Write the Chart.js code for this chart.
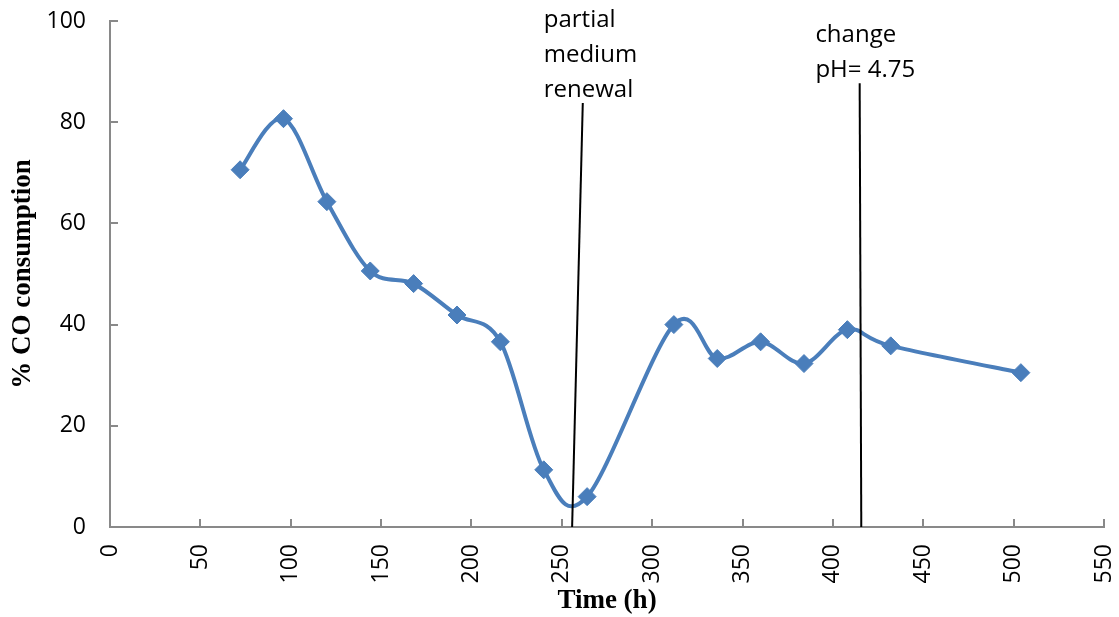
<!DOCTYPE html>
<html>
<head>
<meta charset="utf-8">
<script src="https://cdn.jsdelivr.net/npm/chart.js@4.4.1/dist/chart.umd.min.js"></script>
<style>
  html, body { margin: 0; padding: 0; background: #fff; }
  #wrap { width: 1119px; height: 617px; }
</style>
</head>
<body>
<div id="wrap"><canvas id="c" width="1119" height="617"></canvas></div>
<script>
// ---- data ----
const timeH = [72, 96, 120, 144, 168, 192, 216, 240, 264, 312, 336, 360, 384, 408, 432, 504];
const coPct = [70.6, 80.7, 64.3, 50.6, 48.1, 41.9, 36.6, 11.3, 6.0, 40.0, 33.3, 36.6, 32.3, 39.0, 35.8, 30.5];
const renewalLineX = [255.7, 261.6];
const renewalLineY = [0, 83.8];
const phLineX = [415.7, 414.8];
const phLineY = [0, 87.7];
const renewalText = ["partial", "medium", "renewal"];
const phText = ["change", "pH= 4.75"];
const xTicks = [0, 50, 100, 150, 200, 250, 300, 350, 400, 450, 500, 550];
const yTicks = [0, 20, 40, 60, 80, 100];

const toXY = (xs, ys) => xs.map((x, i) => ({ x: x, y: ys[i] }));

const AXIS_GRAY = '#898989';
const BLUE = '#4A7EBB';

// Excel-style smoothing: Bezier control points at +/- (next - prev) / 6
const excelSmooth = {
  id: 'excelSmooth',
  beforeDatasetDraw(chart, args) {
    if (args.index !== 2) return;
    const meta = args.meta;
    const pts = meta.data;
    const n = pts.length;
    for (let i = 0; i < n; i++) {
      const p = pts[i];
      const prev = pts[Math.max(i - 1, 0)];
      const next = pts[Math.min(i + 1, n - 1)];
      const dx = (next.x - prev.x) / 6, dy = (next.y - prev.y) / 6;
      p.cp1x = p.x - dx; p.cp1y = p.y - dy;
      p.cp2x = p.x + dx; p.cp2y = p.y + dy;
    }
    meta.dataset._pointsUpdated = true;
    meta.dataset._path = undefined;
  }
};

const innerTicks = {
  id: 'innerTicks',
  afterDraw(chart) {
    const ctx = chart.ctx;
    const xs = chart.scales.x, ys = chart.scales.y;
    ctx.save();
    ctx.strokeStyle = AXIS_GRAY;
    ctx.lineWidth = 2;
    ctx.beginPath();
    xs.ticks.forEach(t => {
      const px = Math.round(xs.getPixelForValue(t.value));
      ctx.moveTo(px, ys.bottom);
      ctx.lineTo(px, ys.bottom - 8);
    });
    ys.ticks.forEach(t => {
      const py = Math.round(ys.getPixelForValue(t.value));
      ctx.moveTo(xs.left, py);
      ctx.lineTo(xs.left + 8, py);
    });
    ctx.stroke();
    ctx.restore();
  }
};

const notes = {
  id: 'notes',
  afterDraw(chart, args, opts) {
    const ctx = chart.ctx;
    const xs = chart.scales.x, ys = chart.scales.y;
    ctx.save();
    ctx.fillStyle = '#000';
    ctx.font = '24px "Open Sans"';
    ctx.textAlign = 'left';
    ctx.textBaseline = 'alphabetic';
    opts.items.forEach(it => {
      const px = xs.getPixelForValue(it.x);
      const py = ys.getPixelForValue(it.y);
      it.lines.forEach((ln, i) => ctx.fillText(ln, px, py + i * it.step));
    });
    ctx.restore();
  }
};

new Chart(document.getElementById('c'), {
  type: 'line',
  data: {
    datasets: [
      {
        data: toXY(renewalLineX, renewalLineY),
        borderColor: '#000', borderWidth: 2, pointRadius: 0, tension: 0, fill: false
      },
      {
        data: toXY(phLineX, phLineY),
        borderColor: '#000', borderWidth: 2, pointRadius: 0, tension: 0, fill: false
      },
      {
        data: toXY(timeH, coPct),
        borderColor: BLUE, borderWidth: 4,
        pointStyle: 'rectRot', pointRadius: 9,
        pointBackgroundColor: BLUE, pointBorderColor: BLUE, pointBorderWidth: 1,
        tension: 0.33, cubicInterpolationMode: 'default', fill: false
      }
    ]
  },
  options: {
    responsive: false,
    animation: false,
    devicePixelRatio: 1,
    layout: { padding: { left: 0, top: 21, right: 15, bottom: 0 } },
    plugins: {
      legend: { display: false },
      tooltip: { enabled: false },
      notes: {
        items: [
          { x: 240, y: 98.8, step: 35, lines: renewalText },
          { x: 390.3, y: 95.9, step: 35, lines: phText }
        ]
      }
    },
    scales: {
      x: {
        type: 'linear', min: 0, max: 550,
        afterBuildTicks: s => { s.ticks = xTicks.map(v => ({ value: v })); },
        afterFit: s => { s.height = 90; s.paddingLeft = 0; s.paddingRight = 0; },
        border: { display: true, color: AXIS_GRAY, width: 2 },
        grid: { display: true, drawOnChartArea: false, drawTicks: false },
        ticks: {
          minRotation: 90, maxRotation: 90, padding: 17,
          color: '#000', font: { family: '"Open Sans"', size: 23 }
        },
        title: {
          display: true, text: 'Time (h)', color: '#000',
          font: { family: '"Liberation Serif"', size: 27, weight: 'bold', lineHeight: 1.2 },
          padding: { top: 1, bottom: 0 }
        }
      },
      y: {
        type: 'linear', min: 0, max: 100,
        afterBuildTicks: s => { s.ticks = yTicks.map(v => ({ value: v })); },
        afterFit: s => { s.width = 110; s.paddingTop = 0; s.paddingBottom = 0; },
        border: { display: true, color: AXIS_GRAY, width: 2 },
        grid: { display: true, drawOnChartArea: false, drawTicks: false },
        ticks: {
          padding: 24, color: '#000', font: { family: '"Open Sans"', size: 23 }
        },
        title: {
          display: true, text: '% CO consumption', color: '#000',
          font: { family: '"Liberation Serif"', size: 27, weight: 'bold', lineHeight: 1.2 },
          padding: { top: 7, bottom: 0 }
        }
      }
    }
  },
  plugins: [excelSmooth, innerTicks, notes]
});
</script>
</body>
</html>
